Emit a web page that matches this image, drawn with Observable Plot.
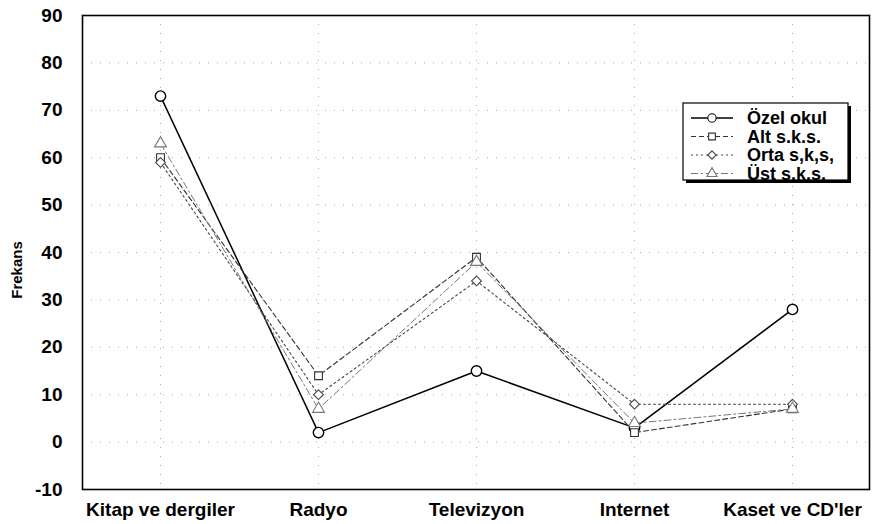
<!DOCTYPE html>
<html>
<head>
<meta charset="utf-8">
<script src="https://cdn.jsdelivr.net/npm/d3@7"></script>
<script src="https://cdn.jsdelivr.net/npm/@observablehq/plot@0.6"></script>
<style>
  html, body { margin: 0; padding: 0; background: #fff; }
  #chart svg { display: block; }
</style>
</head>
<body>
<div id="chart"></div>
<script>
const categories = ["Kitap ve dergiler", "Radyo", "Televizyon", "Internet", "Kaset ve CD'ler"];
const seriesNames = ["Özel okul", "Alt s.k.s.", "Orta s,k,s,", "Üst s.k.s."];
const ozelOkul = [73, 2, 15, 3, 28];
const altSks = [60, 14, 39, 2, 7];
const ortaSks = [59, 10, 34, 8, 8];
const ustSks = [63, 7, 38, 4, 7];
const yTicks = [-10, 0, 10, 20, 30, 40, 50, 60, 70, 80, 90];

const seriesValues = [ozelOkul, altSks, ortaSks, ustSks];
const symbols = ["circle", "square", "diamond2", "triangle"];
const d3Symbols = [d3.symbolCircle, d3.symbolSquare, d3.symbolDiamond2, d3.symbolTriangle];
const strokes = ["#000", "#333", "#444", "#777"];
const dashes = [null, "5,3", "2,3", "7,3,2,3"];
const widths = [1.5, 1.1, 1.1, 1.0];

const rows = [];
seriesNames.forEach((s, i) => {
  categories.forEach((c, j) => rows.push({series: s, cat: c, value: seriesValues[i][j], idx: i}));
});

const font = "Liberation Sans, Arial, sans-serif";

const lineMarks = seriesNames.map((s, i) =>
  Plot.line(rows.filter(d => d.series === s), {
    x: "cat", y: "value", stroke: strokes[i], strokeWidth: widths[i],
    strokeDasharray: dashes[i]
  })
);
const dotMarks = seriesNames.map((s, i) =>
  Plot.dot(rows.filter(d => d.series === s), {
    x: "cat", y: "value", symbol: () => symbols[i], r: i === 0 ? 5.2 : 4.4,
    fill: "white", stroke: strokes[i], strokeWidth: i === 0 ? 1.4 : 1.1
  })
);

const plot = Plot.plot({
  width: 872,
  height: 524,
  marginLeft: 82,
  marginRight: 3,
  marginTop: 15,
  marginBottom: 35,
  style: {fontFamily: font, fontSize: "16px", fontWeight: "bold", color: "#000", background: "#fff"},
  x: {type: "point", domain: categories, padding: 0.48, label: null},
  y: {domain: [-10, 90], ticks: yTicks, label: null},
  symbol: {type: "identity"},
  marks: [
    Plot.gridY(yTicks.filter(t => t > -10 && t < 90), {stroke: "#999", strokeOpacity: 0.8, strokeDasharray: "1,8"}),
    Plot.gridX(categories, {stroke: "#999", strokeOpacity: 0.8, strokeDasharray: "1,8"}),
    Plot.axisY({ticks: yTicks, tickSize: 0, tickPadding: 20, fontSize: 19, tickFormat: d => d < 0 ? "-" + Math.abs(d) : String(d)}),
    Plot.axisX({tickSize: 0, tickPadding: 13, fontSize: 19}),
    ...lineMarks,
    ...dotMarks,
    Plot.frame({stroke: "#000", strokeWidth: 1.6})
  ]
});

document.getElementById("chart").appendChild(plot);

const svg = d3.select(plot);

// Y-axis title
svg.append("text")
  .attr("transform", "translate(22,270) rotate(-90)")
  .attr("text-anchor", "middle")
  .attr("font-family", font)
  .attr("font-weight", "bold")
  .attr("font-size", 15)
  .text("Frekans");

// Legend box
const lx = 683, ly = 103, lw = 165, lh = 77;
const g = svg.append("g");
g.append("rect").attr("x", lx + 3).attr("y", ly + 3).attr("width", lw).attr("height", lh).attr("fill", "#000");
g.append("rect").attr("x", lx).attr("y", ly).attr("width", lw).attr("height", lh)
  .attr("fill", "#fff").attr("stroke", "#000").attr("stroke-width", 1.2);
seriesNames.forEach((s, i) => {
  const yy = ly + 15 + i * 18.5;
  g.append("line").attr("x1", lx + 8).attr("x2", lx + 50).attr("y1", yy).attr("y2", yy)
    .attr("stroke", strokes[i]).attr("stroke-width", widths[i])
    .attr("stroke-dasharray", dashes[i]);
  g.append("path")
    .attr("d", d3.symbol(d3Symbols[i], i === 0 ? 55 : 45)())
    .attr("transform", `translate(${lx + 29},${yy})`)
    .attr("fill", "#fff").attr("stroke", strokes[i]).attr("stroke-width", 1.1);
  g.append("text").attr("x", lx + 64).attr("y", yy).attr("dy", "0.35em")
    .attr("text-anchor", "start")
    .attr("font-family", font).attr("font-weight", "bold").attr("font-size", 18).text(s);
});
</script>
</body>
</html>
